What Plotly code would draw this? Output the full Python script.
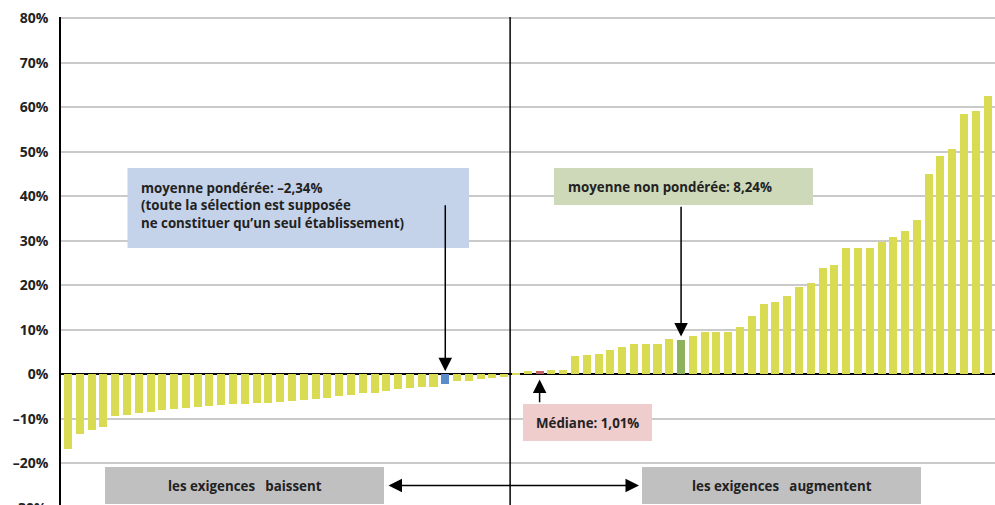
import plotly.graph_objects as go

# ---- data (percent change per establishment, sorted) ----
values_down = [-16.7, -13.4, -12.5, -11.8, -9.3, -9.1, -8.7, -8.4, -8.0, -7.8,
               -7.5, -7.3, -7.1, -6.9, -6.6, -6.6, -6.4, -6.4, -6.2, -6.0,
               -5.7, -5.5, -5.3, -4.85, -4.6, -4.2, -4.2, -3.7, -3.3, -3.1,
               -2.8, -2.8, -2.2, -1.5, -1.5, -1.0, -0.8, -0.6]
values_up = [0.4, 0.8, 0.8, 1.05, 1.05, 4.2, 4.4, 4.65, 5.55, 6.2,
             6.7, 6.7, 6.9, 8.0, 7.8, 8.7, 9.4, 9.6, 9.6, 10.7,
             13.0, 15.9, 16.35, 17.7, 19.7, 20.6, 24.0, 24.5, 28.3, 28.3,
             28.3, 29.7, 30.8, 32.3, 34.6, 44.9, 49.0, 50.6, 58.4, 59.1, 62.5]
values = values_down + values_up
categories = list(range(len(values)))

idx_weighted = 32      # moyenne pondérée
idx_median = 40        # médiane
idx_mean = 52          # moyenne non pondérée

tick_vals = [-20, -10, 0, 10, 20, 30, 40, 50, 60, 70, 80]
tick_text = ["–20%", "–10%", "0%", "10%", "20%", "30%", "40%", "50%", "60%", "70%", "80%"]

txt_weighted_lines = ["moyenne pondérée: –2,34%",
                      "(toute la sélection est supposée",
                      "ne constituer qu’un seul établissement)"]
txt_mean = "moyenne non pondérée: 8,24%"
txt_median = "Médiane: 1,01%"
txt_down = "les exigences\u00a0\u00a0 baissent"
txt_up = "les exigences\u00a0\u00a0 augmentent"

# ---- styles ----
YELLOW = "#d9dc52"
BLUE = "#5b8cc9"
RED = "#c2636c"
GREEN = "#8db25c"
FONT = "Open Sans"
TXT = "#222222"

colors = [YELLOW] * len(values)
colors[idx_weighted] = BLUE
colors[idx_median] = RED
colors[idx_mean] = GREEN

W, H = 995, 505
PL, PR, PT, PB = 61, 995, 17, 505


def px_x(px):
    return (px - PL) / (PR - PL)


def px_y(py):
    return (PB - py) / (PB - PT)


fig = go.Figure(go.Bar(x=categories, y=values, marker=dict(color=colors, line=dict(width=0)),
                       width=0.68, hoverinfo="skip"))

shapes = []
annotations = []


def box(x0, x1, y0, y1, fill):
    shapes.append(dict(type="rect", xref="paper", yref="paper",
                       x0=px_x(x0), x1=px_x(x1), y0=px_y(y1), y1=px_y(y0),
                       fillcolor=fill, line=dict(width=0), layer="above"))


def label(text, x, y, xanchor="left"):
    annotations.append(dict(text=text, xref="paper", yref="paper", x=px_x(x), y=px_y(y),
                            xanchor=xanchor, yanchor="middle", align="left", showarrow=False,
                            font=dict(family=FONT, size=13.3, color=TXT, weight="bold")))


# vertical separator line
shapes.append(dict(type="line", xref="x", yref="paper", x0=len(values_down) - 0.5,
                   x1=len(values_down) - 0.5, y0=0, y1=1, line=dict(color="black", width=1.5), layer="above"))

box(127.5, 469, 168, 248, "#c5d3ea")
box(554, 813, 168, 205, "#cdd9b9")
box(523, 652, 404, 441, "#f0cdcd")
box(105, 384, 467, 504, "#c0c0c0")
box(642, 921, 467, 504, "#c0c0c0")

for i, line in enumerate(txt_weighted_lines):
    label(line, 139, 187.5 + 17.5 * i)
label(txt_mean, 565.5, 187)
label(txt_median, 587.5, 423, "center")
label(txt_down, 244.5, 486, "center")
label(txt_up, 781.5, 486, "center")

ARW = dict(showarrow=True, arrowhead=2, arrowsize=1.8, arrowwidth=1.5, arrowcolor="black", text="")
# arrows pointing to bars
annotations.append(dict(x=idx_weighted, y=0, xref="x", yref="y", ax=idx_weighted, ay=38.3,
                        axref="x", ayref="y", standoff=3, **ARW))
annotations.append(dict(x=idx_mean, y=values[idx_mean], xref="x", yref="y", ax=idx_mean, ay=38.0,
                        axref="x", ayref="y", standoff=3, **ARW))
annotations.append(dict(x=idx_median, y=-0.5, xref="x", yref="y", ax=idx_median, ay=-6.6,
                        axref="x", ayref="y", standoff=3, **ARW))
# double arrow between the two grey boxes
annotations.append(dict(x=px_x(642), y=px_y(485.5), xref="paper", yref="paper",
                        ax=-(642 - 384), ay=0, axref="pixel", ayref="pixel",
                        arrowside="end+start", standoff=3, startstandoff=3, **ARW))
# clipped -30% tick label
annotations.append(dict(text="–30%", xref="paper", yref="paper", x=0, y=px_y(507.8),
                        xanchor="right", yanchor="middle", xshift=-12, showarrow=False,
                        font=dict(family=FONT, size=14, color=TXT, weight="bold")))

fig.update_layout(
    width=W, height=H,
    margin=dict(l=PL, r=W - PR, t=PT, b=H - PB, pad=0),
    paper_bgcolor="white", plot_bgcolor="white",
    showlegend=False, bargap=0,
    shapes=shapes, annotations=annotations,
    xaxis=dict(range=[(PL - 68) / 11.79, (PR - 68) / 11.79], showgrid=False, zeroline=False,
               showticklabels=False, ticks="", showline=False, fixedrange=True),
    yaxis=dict(range=[-29.37, 80.29], tickvals=tick_vals, ticktext=tick_text,
               showgrid=True, gridcolor="#cacaca", gridwidth=1.5,
               zeroline=True, zerolinecolor="black", zerolinewidth=2,
               showline=True, linecolor="black", linewidth=1.5,
               ticks="", ticklabelstandoff=8,
               tickfont=dict(family=FONT, size=14, color=TXT, weight="bold"), fixedrange=True),
)

fig.write_html("out.html", config={"displayModeBar": False})
